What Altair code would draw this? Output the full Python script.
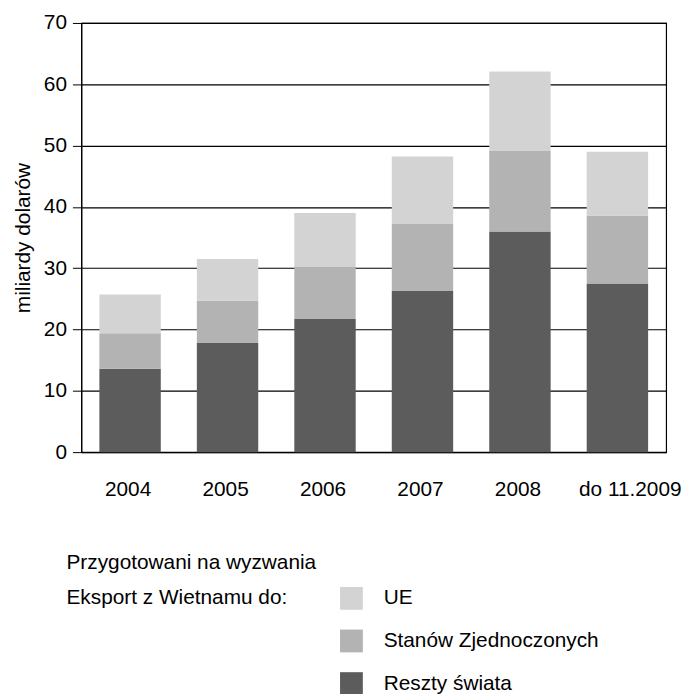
import altair as alt
import pandas as pd

years = ["2004", "2005", "2006", "2007", "2008", "do 11.2009"]
series = ["UE", "Stanów Zjednoczonych", "Reszty świata"]
colors = ["#d3d3d3", "#b3b3b3", "#5c5c5c"]

# values per segment (billions of dollars)
reszty = [13.6, 17.8, 21.7, 26.3, 36.0, 27.5]
usa = [5.8, 6.9, 8.5, 10.9, 13.1, 11.1]
ue = [6.3, 6.8, 8.8, 11.0, 13.0, 10.4]

y_ticks = [0, 10, 20, 30, 40, 50, 60, 70]
note = "Przygotowani na wyzwania"
legend_title = "Eksport z Wietnamu do:"
y_title = "miliardy dolarów"

rows = []
for i, yr in enumerate(years):
    rows.append({"year": yr, "series": "Reszty świata", "value": reszty[i], "ord": 0})
    rows.append({"year": yr, "series": "Stanów Zjednoczonych", "value": usa[i], "ord": 1})
    rows.append({"year": yr, "series": "UE", "value": ue[i], "ord": 2})
df = pd.DataFrame(rows)

FONT = "Liberation Sans"
FS = 21

bars = alt.Chart(df).mark_bar(strokeWidth=0).encode(
    x=alt.X(
        "year:N",
        sort=years,
        scale=alt.Scale(paddingInner=0.37, paddingOuter=0.185),
        axis=alt.Axis(
            title=None,
            labelAngle=0,
            ticks=False,
            labelPadding=27,
            labelFontSize=FS,
            labelFont=FONT,
            labelColor="black",
            domainColor="black",
            labelOffset={"condition": {"test": "datum.value === 'do 11.2009'", "value": 13}, "value": -2},
        ),
    ),
    y=alt.Y(
        "value:Q",
        stack="zero",
        scale=alt.Scale(domain=[0, 70], nice=False),
        axis=alt.Axis(
            values=y_ticks,
            title=y_title,
            titleFont=FONT,
            titleFontSize=FS,
            titleFontWeight="normal",
            titleColor="black",
            titlePadding=10,
            grid=True,
            gridColor="black",
            gridWidth=1.2,
            tickSize=9,
            tickColor="black",
            labelPadding=6,
            labelFontSize=FS,
            labelFont=FONT,
            labelColor="black",
            domainColor="black",
        ),
    ),
    color=alt.Color(
        "series:N",
        scale=alt.Scale(domain=series, range=colors),
        legend=alt.Legend(
            title=legend_title,
            orient="none",
            legendX=-15,
            legendY=569,
            titleOrient="left",
            titleAnchor="start",
            titleBaseline="top",
            titlePadding=53,
            titleFont=FONT,
            titleFontSize=FS,
            titleFontWeight="normal",
            titleColor="black",
            titleLimit=400,
            labelFont=FONT,
            labelFontSize=FS,
            labelColor="black",
            labelLimit=400,
            labelOffset=21,
            symbolType="square",
            symbolSize=529,
            symbolStrokeWidth=0,
            rowPadding=20,
            padding=0,
        ),
    ),
    order=alt.Order("ord:Q"),
)

note_df = pd.DataFrame({"t": [note]})
note_text = alt.Chart(note_df).mark_text(
    align="left", baseline="alphabetic", font=FONT, fontSize=FS, color="black"
).encode(x=alt.value(-15), y=alt.value(551), text="t:N")

chart = alt.layer(bars, note_text).properties(
    width=590,
    height=433,
    padding={"left": 74, "top": 12, "right": 16, "bottom": 250},
    autosize="none",
).configure_view(stroke="black", strokeWidth=1.2)

chart.save("out.html", embed_options={"renderer": "svg", "actions": False})
